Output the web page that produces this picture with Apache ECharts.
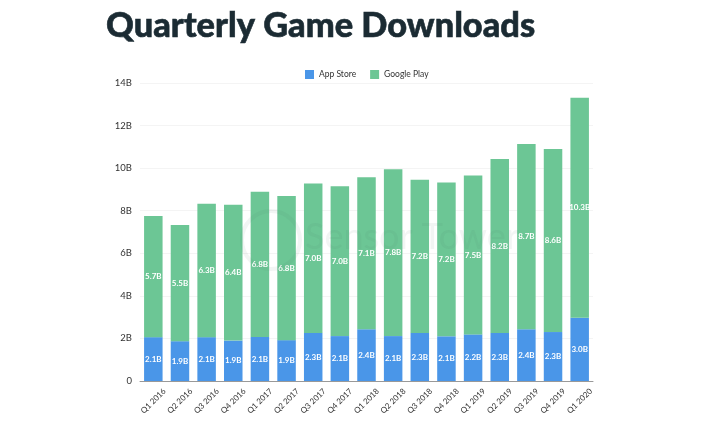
<!DOCTYPE html>
<html>
<head>
<meta charset="utf-8">
<style>
  html, body { margin: 0; padding: 0; background: #fff; }
  #chart { width: 720px; height: 432px; }
</style>
<script src="https://cdn.jsdelivr.net/npm/echarts@6/dist/echarts.min.js"></script>
</head>
<body>
<div id="chart"></div>
<script>
var quarters = ['Q1 2016','Q2 2016','Q3 2016','Q4 2016','Q1 2017','Q2 2017','Q3 2017','Q4 2017','Q1 2018','Q2 2018',
                'Q3 2018','Q4 2018','Q1 2019','Q2 2019','Q3 2019','Q4 2019','Q1 2020'];
// they round to the printed labels
var appStore = [2.06,1.87,2.06,1.9,2.07,1.92,2.26,2.11,2.43,2.11,2.26,2.1,2.19,2.26,2.43,2.3,2.97];
var googlePlay = [5.69,5.46,6.27,6.38,6.82,6.77,7.02,7.04,7.14,7.84,7.2,7.23,7.46,8.17,8.7,8.6,10.34];

var font = 'Lato, sans-serif';

function barLabel(params) {
    return params.value.toFixed(1) + 'B';
}

var myChart = echarts.init(document.getElementById('chart'));

var option = {
    animation: false,
    backgroundColor: '#fff',
    title: {
        text: 'Quarterly Game Downloads',
        left: 101,
        top: 4,
        textStyle: {
            fontFamily: font, fontSize: 34.4, fontWeight: 900, color: '#1b2b33',
            textBorderColor: '#1b2b33', textBorderWidth: 0.6
        }
    },
    legend: {
        top: 65,
        left: 300,
        itemWidth: 9,
        itemHeight: 9,
        itemGap: 14,
        icon: 'rect',
        textStyle: { fontFamily: font, fontSize: 8.5, color: '#333' },
        data: ['App Store', 'Google Play']
    },
    grid: { left: 140, right: 127, top: 83, bottom: 51 },
    xAxis: {
        type: 'category',
        data: quarters,
        axisLine: { lineStyle: { color: '#999', width: 1 } },
        axisTick: { show: false },
        axisLabel: {
            rotate: 45, interval: 0, align: 'center', verticalAlign: 'middle',
            fontFamily: font, fontSize: 8, color: '#333', margin: 20
        }
    },
    yAxis: {
        type: 'value',
        min: 0,
        max: 14,
        interval: 2,
        axisLine: { show: false },
        axisTick: { show: false },
        splitLine: { lineStyle: { color: '#f4f4f4', width: 1 } },
        axisLabel: {
            fontFamily: font, fontSize: 9.5, color: '#333', margin: 8,
            formatter: function (v) { return v === 0 ? '0' : v + 'B'; }
        }
    },
    graphic: [
        {
            type: 'text', left: 305, top: 219, z: 10, silent: true,
            style: { text: 'Sensor Tower', font: '36px ' + font, fill: 'rgba(70,110,100,0.07)' }
        },
        {
            type: 'circle', shape: { cx: 271, cy: 240, r: 29 }, z: 10, silent: true,
            style: { fill: 'none', stroke: 'rgba(70,110,100,0.07)', lineWidth: 4 }
        }
    ],
    series: [
        {
            name: 'App Store',
            type: 'bar',
            stack: 'total',
            barWidth: 18.5,
            itemStyle: { color: '#4a96e8' },
            label: { show: true, position: 'inside', formatter: barLabel, color: '#fff', fontFamily: font, fontSize: 8, fontWeight: 'bold' },
            data: appStore
        },
        {
            name: 'Google Play',
            type: 'bar',
            stack: 'total',
            barWidth: 18.5,
            itemStyle: { color: '#6cc695' },
            label: { show: true, position: 'inside', formatter: barLabel, color: '#fff', fontFamily: font, fontSize: 8, fontWeight: 'bold' },
            data: googlePlay
        }
    ]
};
myChart.setOption(option);
</script>
</body>
</html>
